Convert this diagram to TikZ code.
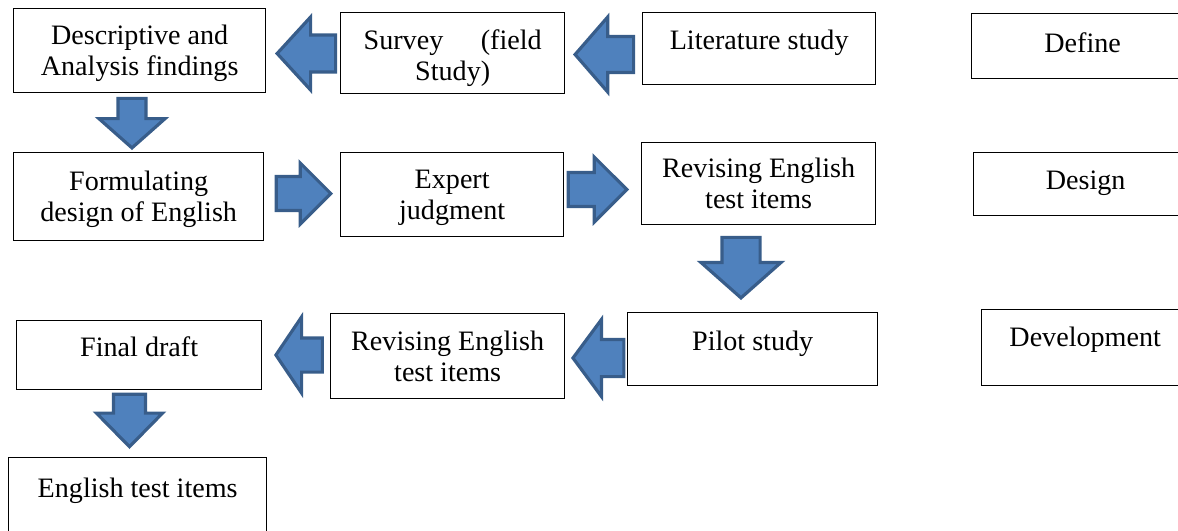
\documentclass[tikz,border=0pt]{standalone}
\usepackage{fontspec}
\setmainfont{Liberation Serif}
\usepackage{tikz}
\usetikzlibrary{shapes}
\definecolor{arrowfill}{HTML}{4F81BD}
\definecolor{arrowedge}{HTML}{385D8A}
\newcommand{\lowerline}[1][14pt]{\rule{0pt}{#1}}

\begin{document}
\begin{tikzpicture}[x=0.02cm,y=-0.02cm]
	\tikzstyle{stage}=[draw,rectangle,line width=0.8pt,anchor=north west,inner sep=0pt,align=center,font=\fontsize{16}{17.6}\selectfont]
	\tikzstyle{blockarrow}=[single arrow,draw=arrowedge,fill=arrowfill,line width=1.8pt,anchor=tip]

	\useasboundingbox (0,0) rectangle (1178,531);
	\clip (0,0) rectangle (1178,531);

	% first row
	\node[stage,minimum width=5.04cm,minimum height=1.68cm] (desc) at (13,8) {\lowerline Descriptive and\\Analysis findings};
	\node[stage,minimum width=4.48cm,minimum height=1.62cm,text width=3.56cm] (survey) at (340,12) {\lowerline[17pt]Survey \hfill (field\\Study)};
	\node[stage,minimum width=4.66cm,minimum height=1.44cm,text depth=10.3pt] (lit) at (642,12) {Literature study};
	\node[stage,minimum width=4.44cm,minimum height=1.3cm,text depth=4pt] (define) at (971,13) {Define};

	% second row
	\node[stage,minimum width=5cm,minimum height=1.76cm] (form) at (13,152) {\lowerline Formulating\\design of English};
	\node[stage,minimum width=4.46cm,minimum height=1.68cm] (expert) at (340,152) {\lowerline Expert\\judgment};
	\node[stage,minimum width=4.68cm,minimum height=1.64cm] (revtop) at (641,142) {Revising English\\test items};
	\node[stage,minimum width=4.48cm,minimum height=1.26cm,text depth=4.1pt] (design) at (973,152) {Design};

	% third row
	\node[stage,minimum width=4.9cm,minimum height=1.38cm,text depth=10.3pt] (final) at (16,320) {Final draft};
	\node[stage,minimum width=4.68cm,minimum height=1.7cm] (revlow) at (330,313) {Revising English\\test items};
	\node[stage,minimum width=5cm,minimum height=1.46cm,text depth=9.1pt] (pilot) at (627,312) {Pilot study};
	\node[stage,minimum width=4.14cm,minimum height=1.52cm,text depth=12.5pt] (devel) at (981,309) {Development};

	\node[stage,minimum width=5.16cm,minimum height=1.8cm,text depth=17.1pt] (items) at (8,457) {English test items};

	% block arrows
	\node[blockarrow,shape border rotate=180,inner sep=0.34cm,minimum height=1.17cm,minimum width=1.4cm,single arrow head extend=0.36cm,single arrow tip angle=95] (a1) at (275,53.5) {};
	\node[blockarrow,shape border rotate=180,inner sep=0.33cm,minimum height=1.17cm,minimum width=1.44cm,single arrow head extend=0.39cm,single arrow tip angle=98] (a2) at (573,54.5) {};
	\node[blockarrow,shape border rotate=270,inner sep=0.25cm,minimum height=0.99cm,minimum width=1.26cm,single arrow head extend=0.38cm,single arrow tip angle=97] (a3) at (132,150) {};
	\node[blockarrow,inner sep=0.31cm,minimum height=1.09cm,minimum width=1.16cm,single arrow head extend=0.27cm,single arrow tip angle=90] (a4) at (333,193.5) {};
	\node[blockarrow,inner sep=0.31cm,minimum height=1.17cm,minimum width=1.24cm,single arrow head extend=0.31cm,single arrow tip angle=90] (a5) at (629,189.5) {};
	\node[blockarrow,shape border rotate=270,inner sep=0.35cm,minimum height=1.21cm,minimum width=1.54cm,single arrow head extend=0.42cm,single arrow tip angle=97] (a6) at (741,300) {};
	\node[blockarrow,shape border rotate=180,inner sep=0.34cm,minimum height=0.99cm,minimum width=1.48cm,single arrow head extend=0.4cm,single arrow tip angle=107] (a7) at (571,358) {};
	\node[blockarrow,shape border rotate=180,inner sep=0.31cm,minimum height=0.93cm,minimum width=1.46cm,single arrow head extend=0.42cm,single arrow tip angle=112] (a8) at (274,355) {};
	\node[blockarrow,shape border rotate=270,inner sep=0.29cm,minimum height=1.05cm,minimum width=1.26cm,single arrow head extend=0.34cm,single arrow tip angle=89] (a9) at (129.5,449) {};

\end{tikzpicture}
\end{document}
